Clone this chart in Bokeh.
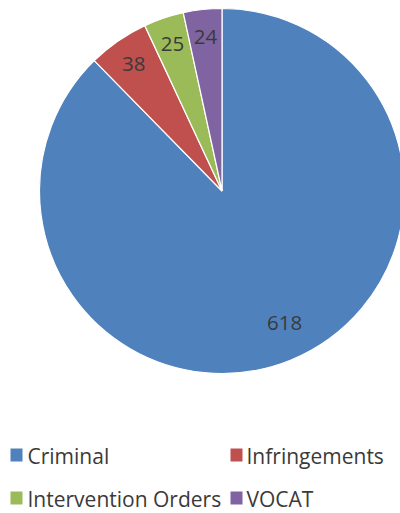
import numpy as np
from bokeh.plotting import figure
from bokeh.models import Range1d, ColumnDataSource
from bokeh.core.properties import value
from bokeh.embed import file_html
from bokeh.resources import INLINE

categories = ["Criminal", "Infringements", "Intervention Orders", "VOCAT"]
counts = [618, 38, 25, 24]
colors = ["#4F81BD", "#C0504D", "#9BBB59", "#8064A2"]

W, H = 400, 513
cx, cy, R = 221.5, H - 190.5, 182.5

vals = np.array(counts, dtype=float)
frac = vals / vals.sum()
cum = np.concatenate([[0], np.cumsum(frac)])
start = np.pi / 2 - 2 * np.pi * cum[:-1]
end = np.pi / 2 - 2 * np.pi * cum[1:]
mid = (start + end) / 2
label_r = np.array([0.80, 0.85, 0.85, 0.85]) * R
label_shift = np.array([0.055, 0.0, 0.0, 0.0])
lang = mid + label_shift

p = figure(width=W, height=H, output_backend="svg", toolbar_location=None,
           x_range=Range1d(0, W), y_range=Range1d(0, H), min_border=0)
p.axis.visible = False
p.grid.visible = False
p.outline_line_color = None
p.background_fill_color = "white"
p.border_fill_color = "white"

src = ColumnDataSource(dict(start=start, end=end, color=colors, cat=categories,
                            val=[str(v) for v in counts],
                            lx=cx + label_r * np.cos(lang),
                            ly=cy + label_r * np.sin(lang)))
p.wedge(x=cx, y=cy, radius=R, start_angle="end", end_angle="start",
        fill_color="color", line_color="white", line_width=1.2, source=src)
p.text(x="lx", y="ly", text="val", source=src, text_align="center",
       text_baseline="middle", text_font=value("Open Sans"),
       text_font_size="20.5px", text_color="#3a3a3a")

# legend
lx_sq = [16, 236, 16, 236]
lx_tx = [27, 246, 27, 246]
row_mid = [H - 454.5, H - 454.5, H - 497.5, H - 497.5]
leg = ColumnDataSource(dict(sx=lx_sq, sy=row_mid, tx=lx_tx,
                            ty=[m - 1 for m in row_mid], color=colors, cat=categories))
p.rect(x="sx", y="sy", width=12, height=13, fill_color="color",
       line_color=None, source=leg)
p.text(x="tx", y="ty", text="cat", source=leg, text_align="left",
       text_baseline="middle", text_font=value("Open Sans"),
       text_font_size="21px", text_color="#3a3a3a")

open("out.html", "w").write(file_html(p, INLINE))
